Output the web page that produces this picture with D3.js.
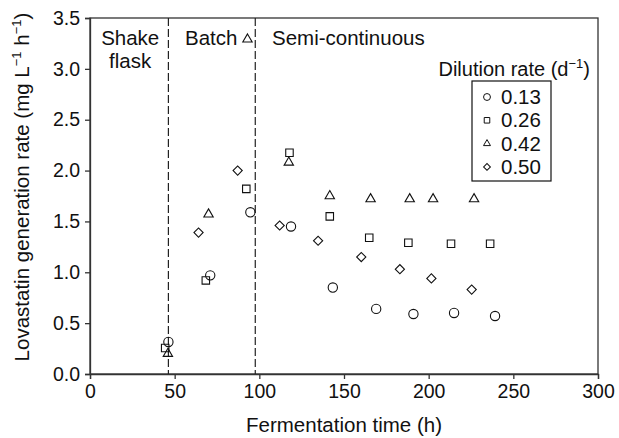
<!DOCTYPE html>
<html>
<head>
<meta charset="utf-8">
<script src="https://cdn.jsdelivr.net/npm/d3@7"></script>
<style>
  body { margin: 0; background: #fff; }
  text { font-family: "Liberation Sans", Arial, sans-serif; fill: #111; }
</style>
</head>
<body>
<div id="chart"></div>
<script>
// data
const dilutionRates = ["0.13", "0.26", "0.42", "0.50"];
const timeD013 = [46.3, 71, 94.7, 118.7, 143.4, 169, 191, 215, 239.2];
const rateD013 = [0.315, 0.97, 1.59, 1.45, 0.85, 0.64, 0.59, 0.60, 0.57];
const timeD026 = [44.4, 68.4, 92.3, 117.8, 141.6, 164.9, 188, 213.2, 236.3];
const rateD026 = [0.256, 0.92, 1.82, 2.175, 1.55, 1.34, 1.29, 1.28, 1.28];
const timeD042 = [46, 70, 93, 117.4, 141.6, 165.7, 188.8, 202.6, 226.8];
const rateD042 = [0.20, 1.57, 3.29, 2.08, 1.75, 1.72, 1.72, 1.72, 1.72];
const timeD050 = [64.1, 87.2, 112, 134.7, 160.2, 183, 201.6, 225.4];
const rateD050 = [1.39, 2.00, 1.46, 1.31, 1.15, 1.03, 0.94, 0.83];
const phaseBounds = [46.3, 97.6];
const xTicks = [0, 50, 100, 150, 200, 250, 300];
const yTicks = [0, 0.5, 1, 1.5, 2, 2.5, 3, 3.5];

const width = 619, height = 438;
const margin = { top: 18, right: 21, bottom: 64, left: 90 };
const w = width - margin.left - margin.right;
const h = height - margin.top - margin.bottom;

const svg = d3.select("#chart").append("svg")
  .attr("width", width)
  .attr("height", height);

const g = svg.append("g")
  .attr("transform", `translate(${margin.left},${margin.top})`);

const x = d3.scaleLinear().domain([0, 300]).range([0, w]);
const y = d3.scaleLinear().domain([0, 3.5]).range([h, 0]);

// frame
g.append("rect")
  .attr("width", w).attr("height", h)
  .attr("fill", "none").attr("stroke", "#333").attr("stroke-width", 1.3);

// axes
const xAxis = g.append("g")
  .attr("transform", `translate(0,${h})`)
  .call(d3.axisBottom(x).tickValues(xTicks).tickSize(5).tickPadding(5).tickFormat(d3.format("d")));
const yAxis = g.append("g")
  .call(d3.axisLeft(y).tickValues(yTicks).tickSize(5).tickPadding(5).tickFormat(d3.format(".1f")));
[xAxis, yAxis].forEach(a => {
  a.select(".domain").attr("stroke", "#333").attr("stroke-width", 1.3);
  a.selectAll(".tick line").attr("stroke", "#333").attr("stroke-width", 1.3);
  a.selectAll(".tick text").attr("font-size", "19.5px").attr("fill", "#111")
    .style("font-family", '"Liberation Sans", Arial, sans-serif');
});

// phase boundaries
g.selectAll("line.phase")
  .data(phaseBounds)
  .enter().append("line")
  .attr("class", "phase")
  .attr("x1", d => x(d)).attr("x2", d => x(d))
  .attr("y1", 0).attr("y2", h)
  .attr("stroke", "#222").attr("stroke-width", 1.2)
  .attr("stroke-dasharray", "8,3");

// phase labels
g.append("text").attr("x", x(phaseBounds[0] / 2) + 1).attr("y", 27)
  .attr("text-anchor", "middle").attr("font-size", "20.5px").text("Shake");
g.append("text").attr("x", x(phaseBounds[0] / 2) + 1).attr("y", 50)
  .attr("text-anchor", "middle").attr("font-size", "20.5px").text("flask");
g.append("text").attr("x", 95).attr("y", 27)
  .attr("font-size", "20.5px").text("Batch");
g.append("text").attr("x", 182).attr("y", 27)
  .attr("font-size", "20.5px").text("Semi-continuous");

// markers
const symbolTypes = [d3.symbolCircle, d3.symbolSquare, d3.symbolTriangle, d3.symbolSquare];
const symbolSizes = [68, 56, 38, 42];
const symbolRotate = [0, 0, 0, 45];
const series = [
  { times: timeD013, rates: rateD013 },
  { times: timeD026, rates: rateD026 },
  { times: timeD042, rates: rateD042 },
  { times: timeD050, rates: rateD050 }
];

series.forEach((s, i) => {
  const pts = s.times.map((t, j) => ({ t: t, v: s.rates[j] }));
  g.selectAll("path.s" + i)
    .data(pts)
    .enter().append("path")
    .attr("class", "s" + i)
    .attr("d", d3.symbol().type(symbolTypes[i]).size(symbolSizes[i]))
    .attr("transform", d => `translate(${x(d.t)},${y(d.v)}) rotate(${symbolRotate[i]})`)
    .attr("fill", "none")
    .attr("stroke", "#111")
    .attr("stroke-width", 1.1);
});

// legend
const legTitle = g.append("text")
  .attr("x", w - 8).attr("y", 58)
  .attr("text-anchor", "end").attr("font-size", "20px");
legTitle.append("tspan").text("Dilution rate (d");
legTitle.append("tspan").attr("font-size", "13px").attr("dy", -8).text("\u22121");
legTitle.append("tspan").attr("dy", 8).text(")");

const legX = 382, legY = 63;
g.append("rect")
  .attr("x", legX).attr("y", legY)
  .attr("width", 79).attr("height", 100)
  .attr("fill", "none").attr("stroke", "#111").attr("stroke-width", 1.2);

dilutionRates.forEach((r, i) => {
  const cy = legY + 16 + i * 23.3;
  g.append("path")
    .attr("d", d3.symbol().type(symbolTypes[i]).size(symbolSizes[i] * 0.55))
    .attr("transform", `translate(${legX + 15},${cy}) rotate(${symbolRotate[i]})`)
    .attr("fill", "none").attr("stroke", "#111").attr("stroke-width", 1);
  g.append("text")
    .attr("x", legX + 29).attr("y", cy + 7)
    .attr("font-size", "20.5px").text(r);
});

// axis titles
g.append("text")
  .attr("x", w / 2).attr("y", h + 58)
  .attr("text-anchor", "middle").attr("font-size", "20.5px")
  .text("Fermentation time (h)");

const yTitle = g.append("text")
  .attr("transform", "rotate(-90)")
  .attr("x", -h / 2 + 9).attr("y", -61)
  .attr("text-anchor", "middle").attr("font-size", "20.5px");
yTitle.append("tspan").text("Lovastatin generation rate (mg L");
yTitle.append("tspan").attr("font-size", "13px").attr("dy", -8).text("\u22121");
yTitle.append("tspan").attr("dy", 8).text(" h");
yTitle.append("tspan").attr("font-size", "13px").attr("dy", -8).text("\u22121");
yTitle.append("tspan").attr("dy", 8).text(")");
</script>
</body>
</html>
